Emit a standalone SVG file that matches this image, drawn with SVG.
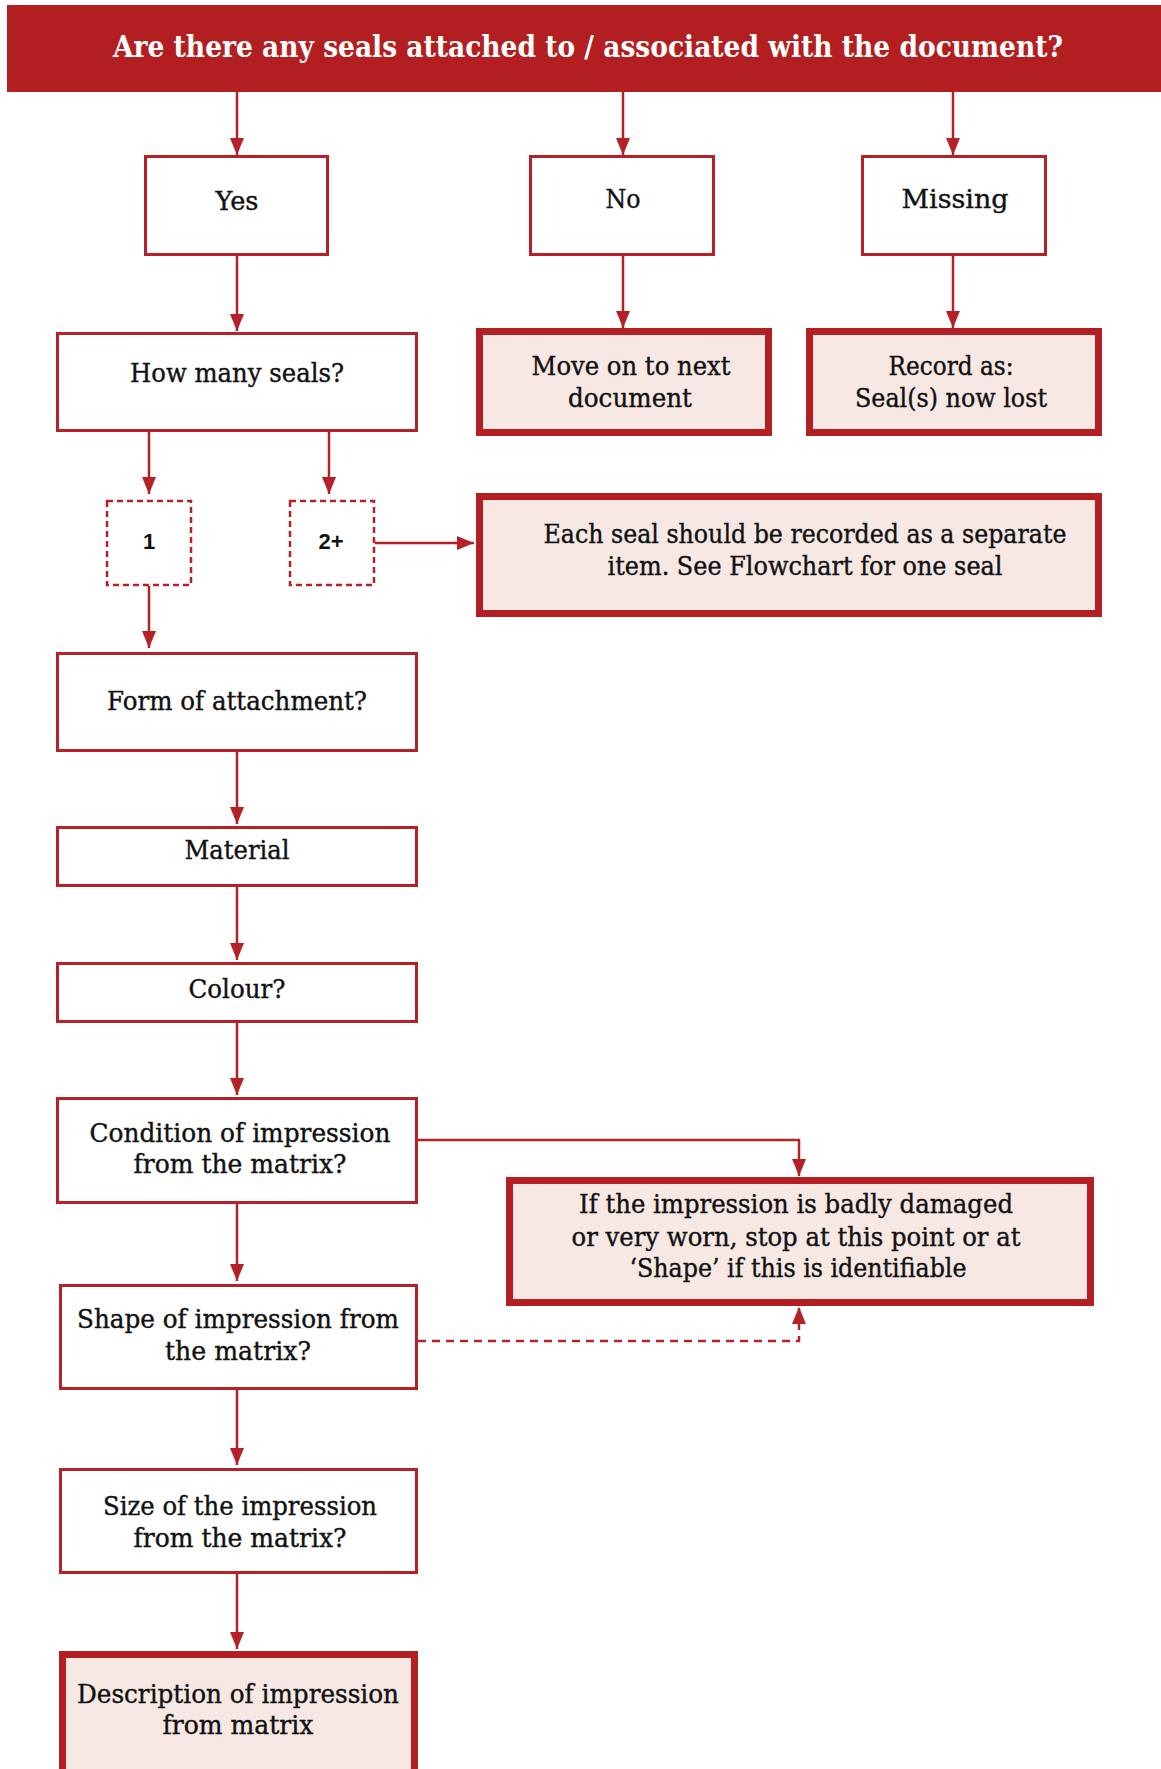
<svg xmlns="http://www.w3.org/2000/svg" width="1161" height="1769" viewBox="0 0 1161 1769">
<style>
.box{fill:#ffffff;stroke:#B52126;stroke-width:3}
.hl{fill:#F7E8E4;stroke:#B31F23;stroke-width:7}
.dash{fill:#ffffff;stroke:#B52126;stroke-width:2.5;stroke-dasharray:6 4}
.t{font-family:"DejaVu Serif","Liberation Serif",serif;font-size:26px;fill:#111111;stroke:#111111;stroke-width:0.4;text-anchor:middle}
.s{font-family:"Liberation Sans","DejaVu Sans",sans-serif;font-size:22px;font-weight:bold;fill:#111111;text-anchor:middle}
.h{font-family:"DejaVu Serif","Liberation Serif",serif;font-size:30px;font-weight:bold;fill:#ffffff;text-anchor:middle}
.c{fill:none;stroke:#B52126;stroke-width:2.5}
.cd{fill:none;stroke:#B52126;stroke-width:2.5;stroke-dasharray:8 6}
</style>
<defs>
<marker id="ah" markerUnits="userSpaceOnUse" markerWidth="18" markerHeight="14" refX="17" refY="7" orient="auto">
<path d="M0,0 L17,7 L0,14 Z" fill="#B52126"/>
</marker>
</defs>
<rect width="1161" height="1769" fill="#ffffff"/>
<g id="header">
<rect x="7" y="5" width="1154" height="87" fill="#B31F21"/>
<text class="h" x="588" y="57" textLength="950" lengthAdjust="spacingAndGlyphs">Are there any seals attached to / associated with the document?</text>
</g>
<g id="connectors">
<line class="c" x1="237" y1="92" x2="237" y2="155" marker-end="url(#ah)"/>
<line class="c" x1="623" y1="92" x2="623" y2="155" marker-end="url(#ah)"/>
<line class="c" x1="953" y1="92" x2="953" y2="155" marker-end="url(#ah)"/>
<line class="c" x1="237" y1="256" x2="237" y2="331" marker-end="url(#ah)"/>
<line class="c" x1="623" y1="256" x2="623" y2="328" marker-end="url(#ah)"/>
<line class="c" x1="953" y1="256" x2="953" y2="328" marker-end="url(#ah)"/>
<line class="c" x1="149" y1="432" x2="149" y2="494" marker-end="url(#ah)"/>
<line class="c" x1="329" y1="432" x2="329" y2="494" marker-end="url(#ah)"/>
<line class="c" x1="149" y1="586" x2="149" y2="648" marker-end="url(#ah)"/>
<line class="c" x1="375" y1="543" x2="474" y2="543" marker-end="url(#ah)"/>
<line class="c" x1="237" y1="752" x2="237" y2="824" marker-end="url(#ah)"/>
<line class="c" x1="237" y1="887" x2="237" y2="960" marker-end="url(#ah)"/>
<line class="c" x1="237" y1="1023" x2="237" y2="1095" marker-end="url(#ah)"/>
<path class="c" d="M417 1140 H799 V1176" marker-end="url(#ah)"/>
<line class="c" x1="237" y1="1204" x2="237" y2="1281" marker-end="url(#ah)"/>
<path class="cd" d="M418 1341 H799 V1307" marker-end="url(#ah)"/>
<line class="c" x1="237" y1="1390" x2="237" y2="1465" marker-end="url(#ah)"/>
<line class="c" x1="237" y1="1574" x2="237" y2="1649" marker-end="url(#ah)"/>
</g>
<g id="yes">
<rect class="box" x="145.5" y="156.5" width="182" height="98"/>
<text class="t" x="237" y="210" textLength="43" lengthAdjust="spacingAndGlyphs">Yes</text>
</g>
<g id="no">
<rect class="box" x="530.5" y="156.5" width="183" height="98"/>
<text class="t" x="623" y="208" textLength="35" lengthAdjust="spacingAndGlyphs">No</text>
</g>
<g id="missing">
<rect class="box" x="862.5" y="156.5" width="183" height="98"/>
<text class="t" x="955" y="208" textLength="107" lengthAdjust="spacingAndGlyphs">Missing</text>
</g>
<g id="how-many">
<rect class="box" x="57.5" y="333.5" width="359" height="97"/>
<text class="t" x="237" y="382" textLength="214" lengthAdjust="spacingAndGlyphs">How many seals?</text>
</g>
<g id="move-on">
<rect class="hl" x="479.5" y="331.5" width="289" height="101"/>
<text class="t" x="631" y="375" textLength="199" lengthAdjust="spacingAndGlyphs">Move on to next</text>
<text class="t" x="630" y="407" textLength="124" lengthAdjust="spacingAndGlyphs">document</text>
</g>
<g id="record">
<rect class="hl" x="809.5" y="331.5" width="289" height="101"/>
<text class="t" x="951" y="375" textLength="125" lengthAdjust="spacingAndGlyphs">Record as:</text>
<text class="t" x="951" y="407" textLength="192" lengthAdjust="spacingAndGlyphs">Seal(s) now lost</text>
</g>
<g id="one">
<rect class="dash" x="107" y="501" width="84" height="84"/>
<text class="s" x="149" y="549">1</text>
</g>
<g id="two-plus">
<rect class="dash" x="290" y="501" width="84" height="84"/>
<text class="s" x="331" y="549">2+</text>
</g>
<g id="each-seal">
<rect class="hl" x="479.5" y="496.5" width="619" height="117"/>
<text class="t" x="805" y="543" textLength="523" lengthAdjust="spacingAndGlyphs">Each seal should be recorded as a separate</text>
<text class="t" x="805" y="575" textLength="395" lengthAdjust="spacingAndGlyphs">item. See Flowchart for one seal</text>
</g>
<g id="form">
<rect class="box" x="57.5" y="653.5" width="359" height="97"/>
<text class="t" x="237" y="710" textLength="260" lengthAdjust="spacingAndGlyphs">Form of attachment?</text>
</g>
<g id="material">
<rect class="box" x="57.5" y="827.5" width="359" height="58"/>
<text class="t" x="237" y="859" textLength="105" lengthAdjust="spacingAndGlyphs">Material</text>
</g>
<g id="colour">
<rect class="box" x="57.5" y="963.5" width="359" height="58"/>
<text class="t" x="237" y="998" textLength="97" lengthAdjust="spacingAndGlyphs">Colour?</text>
</g>
<g id="condition">
<rect class="box" x="57.5" y="1098.5" width="359" height="104"/>
<text class="t" x="240" y="1142" textLength="301" lengthAdjust="spacingAndGlyphs">Condition of impression</text>
<text class="t" x="240" y="1173" textLength="213" lengthAdjust="spacingAndGlyphs">from the matrix?</text>
</g>
<g id="damaged">
<rect class="hl" x="509.5" y="1180.5" width="581" height="122"/>
<text class="t" x="796" y="1213" textLength="434" lengthAdjust="spacingAndGlyphs">If the impression is badly damaged</text>
<text class="t" x="796" y="1246" textLength="449" lengthAdjust="spacingAndGlyphs">or very worn, stop at this point or at</text>
<text class="t" x="798" y="1277" textLength="337" lengthAdjust="spacingAndGlyphs">‘Shape’ if this is identifiable</text>
</g>
<g id="shape">
<rect class="box" x="60.5" y="1285.5" width="356" height="103"/>
<text class="t" x="238" y="1328" textLength="322" lengthAdjust="spacingAndGlyphs">Shape of impression from</text>
<text class="t" x="238" y="1360" textLength="146" lengthAdjust="spacingAndGlyphs">the matrix?</text>
</g>
<g id="size">
<rect class="box" x="60.5" y="1469.5" width="356" height="103"/>
<text class="t" x="240" y="1515" textLength="274" lengthAdjust="spacingAndGlyphs">Size of the impression</text>
<text class="t" x="240" y="1547" textLength="213" lengthAdjust="spacingAndGlyphs">from the matrix?</text>
</g>
<g id="description">
<rect class="hl" x="62.5" y="1654.5" width="352" height="140"/>
<text class="t" x="238" y="1703" textLength="322" lengthAdjust="spacingAndGlyphs">Description of impression</text>
<text class="t" x="238" y="1734" textLength="151" lengthAdjust="spacingAndGlyphs">from matrix</text>
</g>
</svg>
